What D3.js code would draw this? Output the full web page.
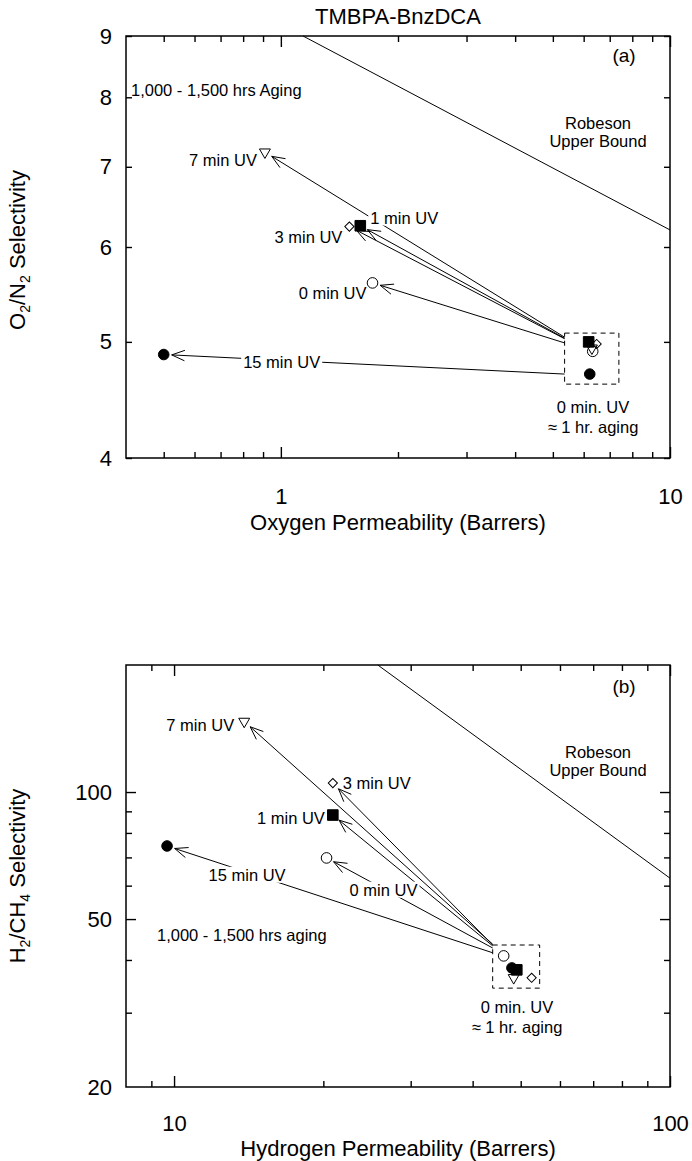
<!DOCTYPE html>
<html><head><meta charset="utf-8">
<script src="https://cdn.jsdelivr.net/npm/d3@7"></script>
<style>
body{margin:0;background:#fff}
svg{display:block}
text{font-family:"Liberation Sans",Arial,Helvetica,sans-serif;fill:#000}
</style>
</head><body>
<svg id="c" width="692" height="1161"></svg>
<script>
// ---------- shared ----------
const uvLabels = ["0 min UV", "1 min UV", "3 min UV", "7 min UV", "15 min UV"];
const symbolKinds = ["circleOpen", "squareFilled", "diamondOpen", "triangleDownOpen", "circleFilled"];

// ---------- panel (a): O2/N2 ----------
const o2InitialP = [6.33, 6.18, 6.48, 6.30, 6.22];
const o2InitialS = [4.91, 5.00, 4.98, 4.94, 4.70];
const o2AgedP = [1.72, 1.60, 1.50, 0.91, 0.50];
const o2AgedS = [5.60, 6.25, 6.24, 7.20, 4.88];
const o2ArrowFromP = [5.36, 5.36, 5.36, 5.36, 5.36];
const o2ArrowFromS = [4.99, 5.035, 5.03, 5.045, 4.70];
const o2RobesonP = [1.14, 10];
const o2RobesonS = [9, 6.2];
const o2BoxP = [5.36, 7.39];
const o2BoxS = [4.61, 5.085];
const o2XMajor = [1, 10];
const o2XMinor = [0.5, 0.6, 0.7, 0.8, 0.9, 2, 3, 4, 5, 6, 7, 8, 9];
const o2YMajor = [];
const o2YMinor = [4, 5, 6, 7, 8, 9];
const o2YLabels = [4, 5, 6, 7, 8, 9];

// ---------- panel (b): H2/CH4 ----------
const h2InitialP = [46.2, 49.1, 52.6, 48.4, 48.0];
const h2InitialS = [40.9, 37.9, 36.3, 36.3, 38.3];
const h2AgedP = [20.3, 20.9, 20.9, 13.85, 9.68];
const h2AgedS = [69.8, 88.2, 105, 147, 74.5];
const h2ArrowFromP = [43.9, 43.9, 43.9, 43.9, 43.9];
const h2ArrowFromS = [42.7, 43.2, 43.4, 43.6, 41.6];
const h2RobesonP = [25.75, 100];
const h2RobesonS = [200, 62.5];
const h2BoxP = [43.9, 54.6];
const h2BoxS = [34.3, 43.4];
const h2XMajor = [10, 100];
const h2XMinor = [9, 20, 30, 40, 50, 60, 70, 80, 90];
const h2YMajor = [50, 100];
const h2YMinor = [30, 40, 60, 70, 80, 90];
const h2YLabels = [20, 50, 100];

const svg = d3.select("#c");
const FONT_TICK = 22, FONT_ANN = 16.5;

function marker(g, kind, x, y) {
  let type, size, rot = 0, filled = false;
  if (kind === "circleOpen") { type = d3.symbolCircle; size = 88; }
  else if (kind === "circleFilled") { type = d3.symbolCircle; size = 88; filled = true; }
  else if (kind === "squareFilled") { type = d3.symbolSquare; size = 112; filled = true; }
  else if (kind === "diamondOpen") { type = d3.symbolSquare; size = 42; rot = 45; }
  else { type = d3.symbolTriangle; size = 52; rot = 180; }
  g.append("path")
    .attr("d", d3.symbol().type(type).size(size)())
    .attr("transform", `translate(${x},${y}) rotate(${rot})`)
    .attr("fill", filled ? "#000" : "none")
    .attr("stroke", "#000").attr("stroke-width", 1);
}

function arrow(g, x1, y1, x2, y2) {
  const dx = x2 - x1, dy = y2 - y1, L = Math.hypot(dx, dy);
  const ux = dx / L, uy = dy / L;
  const tx = x2 - ux * 8, ty = y2 - uy * 8;
  g.append("line").attr("x1", x1).attr("y1", y1).attr("x2", tx).attr("y2", ty)
    .attr("stroke", "#000").attr("stroke-width", 1);
  const a = 22 * Math.PI / 180, len = 14;
  const bx = -ux, by = -uy;
  [a, -a].forEach(t => {
    const rx = bx * Math.cos(t) - by * Math.sin(t);
    const ry = bx * Math.sin(t) + by * Math.cos(t);
    g.append("line").attr("x1", tx).attr("y1", ty)
      .attr("x2", tx + rx * len).attr("y2", ty + ry * len)
      .attr("stroke", "#000").attr("stroke-width", 1);
  });
}

function label(g, text, x, y, anchor, bg, size) {
  const t = g.append("text").attr("x", x).attr("y", y).attr("dy", "0.35em")
    .attr("text-anchor", anchor).attr("font-size", size || FONT_ANN).text(text);
  if (bg) {
    const b = t.node().getBBox();
    g.insert("rect", () => t.node())
      .attr("x", b.x - 2).attr("y", b.y + 1).attr("width", b.width + 4).attr("height", b.height - 2)
      .attr("fill", "#fff");
  }
  return t;
}

function panel(cfg) {
  const { x, y } = cfg;
  const g = svg.append("g");
  const [x0, x1] = x.range(), [y0, y1] = [y.range()[1], y.range()[0]];
  const top = y0, bottom = y1;

  const mk = (gen, vals, size, pad, fmt) => gen.tickValues(vals).tickSize(size).tickSizeOuter(0).tickPadding(pad).tickFormat(fmt);
  const axes = [
    [d3.axisBottom(x), bottom, cfg.xMajor, -11, cfg.xTickPad, d3.format("d")],
    [d3.axisBottom(x), bottom, cfg.xMinor, -6, cfg.xTickPad, () => ""],
    [d3.axisTop(x), top, cfg.xMajor, -11, 0, () => ""],
    [d3.axisTop(x), top, cfg.xMinor, -6, 0, () => ""]
  ];
  axes.forEach(([gen, pos, vals, size, pad, fmt]) => {
    const a = g.append("g").attr("transform", `translate(0,${pos})`).call(mk(gen, vals, size, pad, fmt));
    a.select(".domain").remove();
    a.selectAll("line").attr("stroke-width", 1.4);
    a.selectAll("text").attr("font-size", FONT_TICK).attr("font-family", null);
  });
  const yaxes = [
    [d3.axisLeft(y), x0, cfg.yMajor, -10, 14],
    [d3.axisLeft(y), x0, cfg.yMinor, -6, 14],
    [d3.axisRight(y), x1, cfg.yMajor, -10, 0],
    [d3.axisRight(y), x1, cfg.yMinor, -6, 0],
    [d3.axisLeft(y), x0, cfg.yLabels, 0, 14, true]
  ];
  yaxes.forEach(([gen, pos, vals, size, pad, lab]) => {
    const a = g.append("g").attr("transform", `translate(${pos},0)`)
      .call(gen.tickValues(vals).tickSize(size).tickSizeOuter(0).tickPadding(pad).tickFormat(lab ? d3.format("d") : () => ""));
    a.select(".domain").remove();
    a.selectAll("line").attr("stroke-width", 1.4);
    a.selectAll("text").attr("font-size", FONT_TICK).attr("font-family", null);
  });

  g.append("rect").attr("x", x0).attr("y", top).attr("width", x1 - x0).attr("height", bottom - top)
    .attr("fill", "none").attr("stroke", "#000").attr("stroke-width", 1.5);

  g.append("line")
    .attr("x1", x(cfg.robP[0])).attr("y1", y(cfg.robS[0]))
    .attr("x2", x(cfg.robP[1])).attr("y2", y(cfg.robS[1]))
    .attr("stroke", "#000").attr("stroke-width", 1);

  g.append("rect")
    .attr("x", x(cfg.boxP[0])).attr("y", y(cfg.boxS[1]))
    .attr("width", x(cfg.boxP[1]) - x(cfg.boxP[0])).attr("height", y(cfg.boxS[0]) - y(cfg.boxS[1]))
    .attr("fill", "none").attr("stroke", "#000").attr("stroke-width", 1).attr("stroke-dasharray", "5,4");

  uvLabels.forEach((l, i) => {
    arrow(g, x(cfg.fromP[i]), y(cfg.fromS[i]), x(cfg.agedP[i]), y(cfg.agedS[i]));
  });

  uvLabels.forEach((l, i) => {
    const o = cfg.labelPos[i];
    label(g, l, x(cfg.agedP[i]) + o[0], y(cfg.agedS[i]) + o[1], o[2], o[3]);
  });

  const order = [0, 3, 2, 4, 1];
  order.forEach(i => marker(g, symbolKinds[i], x(cfg.initP[i]), y(cfg.initS[i])));
  uvLabels.forEach((l, i) => marker(g, symbolKinds[i], x(cfg.agedP[i]), y(cfg.agedS[i])));

  label(g, cfg.tag, cfg.tagPos[0], cfg.tagPos[1], "middle", false, 19);
  label(g, "Robeson", cfg.robLab[0], cfg.robLab[1], "middle");
  label(g, "Upper Bound", cfg.robLab[0], cfg.robLab[1] + 18, "middle");
  label(g, cfg.agingText, cfg.agingPos[0], cfg.agingPos[1], "start");
  label(g, "0 min. UV", cfg.initLab[0], cfg.initLab[1], "middle");
  label(g, "\u2248 1 hr. aging", cfg.initLab[0], cfg.initLab[1] + 20, "middle");

  g.append("text").attr("x", (x0 + x1) / 2).attr("y", bottom + cfg.xTitleOff).attr("dy", "0.35em")
    .attr("text-anchor", "middle").attr("font-size", FONT_TICK).text(cfg.xTitle);
  const yt = g.append("text").attr("transform", `translate(30,${cfg.yTitleY}) rotate(-90)`)
    .attr("dy", "0.35em").attr("text-anchor", "middle").attr("font-size", FONT_TICK);
  cfg.yTitle.forEach(([s, sub]) => {
    if (sub) yt.append("tspan").attr("font-size", 14).attr("dy", "5").text(s);
    else yt.append("tspan").attr("dy", yt.selectAll("tspan").size() ? "-5" : null).text(s);
  });
}

svg.append("text").attr("x", 398).attr("y", 16).attr("dy", "0.35em").attr("text-anchor", "middle")
  .attr("font-size", FONT_TICK).text("TMBPA-BnzDCA");

panel({
  x: d3.scaleLog().domain([0.4, 10]).range([126, 670]),
  y: d3.scaleLog().domain([4, 9]).range([458, 36]),
  xMajor: o2XMajor, xMinor: o2XMinor, yMajor: o2YMajor, yMinor: o2YMinor, yLabels: o2YLabels,
  initP: o2InitialP, initS: o2InitialS, agedP: o2AgedP, agedS: o2AgedS,
  fromP: o2ArrowFromP, fromS: o2ArrowFromS,
  robP: o2RobesonP, robS: o2RobesonS, boxP: o2BoxP, boxS: o2BoxS,
  labelPos: [[-6, 10, "end", false], [10, -8, "start", true], [-7, 11, "end", false], [-8, 8, "end", false], [118, 8, "middle", true]],
  tag: "(a)", tagPos: [624, 55], robLab: [598, 123],
  agingText: "1,000 - 1,500 hrs Aging", agingPos: [131, 90],
  initLab: [593, 407],
  xTickPad: 30, xTitleOff: 64,
  xTitle: "Oxygen Permeability (Barrers)",
  yTitle: [["O"], ["2", 1], ["/N"], ["2", 1], [" Selectivity"]], yTitleY: 250
});

panel({
  x: d3.scaleLog().domain([8, 100]).range([126, 670]),
  y: d3.scaleLog().domain([20, 200]).range([1087, 665]),
  xMajor: h2XMajor, xMinor: h2XMinor, yMajor: h2YMajor, yMinor: h2YMinor, yLabels: h2YLabels,
  initP: h2InitialP, initS: h2InitialS, agedP: h2AgedP, agedS: h2AgedS,
  fromP: h2ArrowFromP, fromS: h2ArrowFromS,
  robP: h2RobesonP, robS: h2RobesonS, boxP: h2BoxP, boxS: h2BoxS,
  labelPos: [[23, 32, "start", true], [-8, 3, "end", false], [10, 0, "start", false], [-10, 4, "end", false], [80, 29, "middle", true]],
  tag: "(b)", tagPos: [624, 686], robLab: [598, 752],
  agingText: "1,000 - 1,500 hrs aging", agingPos: [157, 935],
  initLab: [517, 1007],
  xTickPad: 28, xTitleOff: 61,
  xTitle: "Hydrogen Permeability (Barrers)",
  yTitle: [["H"], ["2", 1], ["/CH"], ["4", 1], [" Selectivity"]], yTitleY: 876
});
</script>
</body></html>
